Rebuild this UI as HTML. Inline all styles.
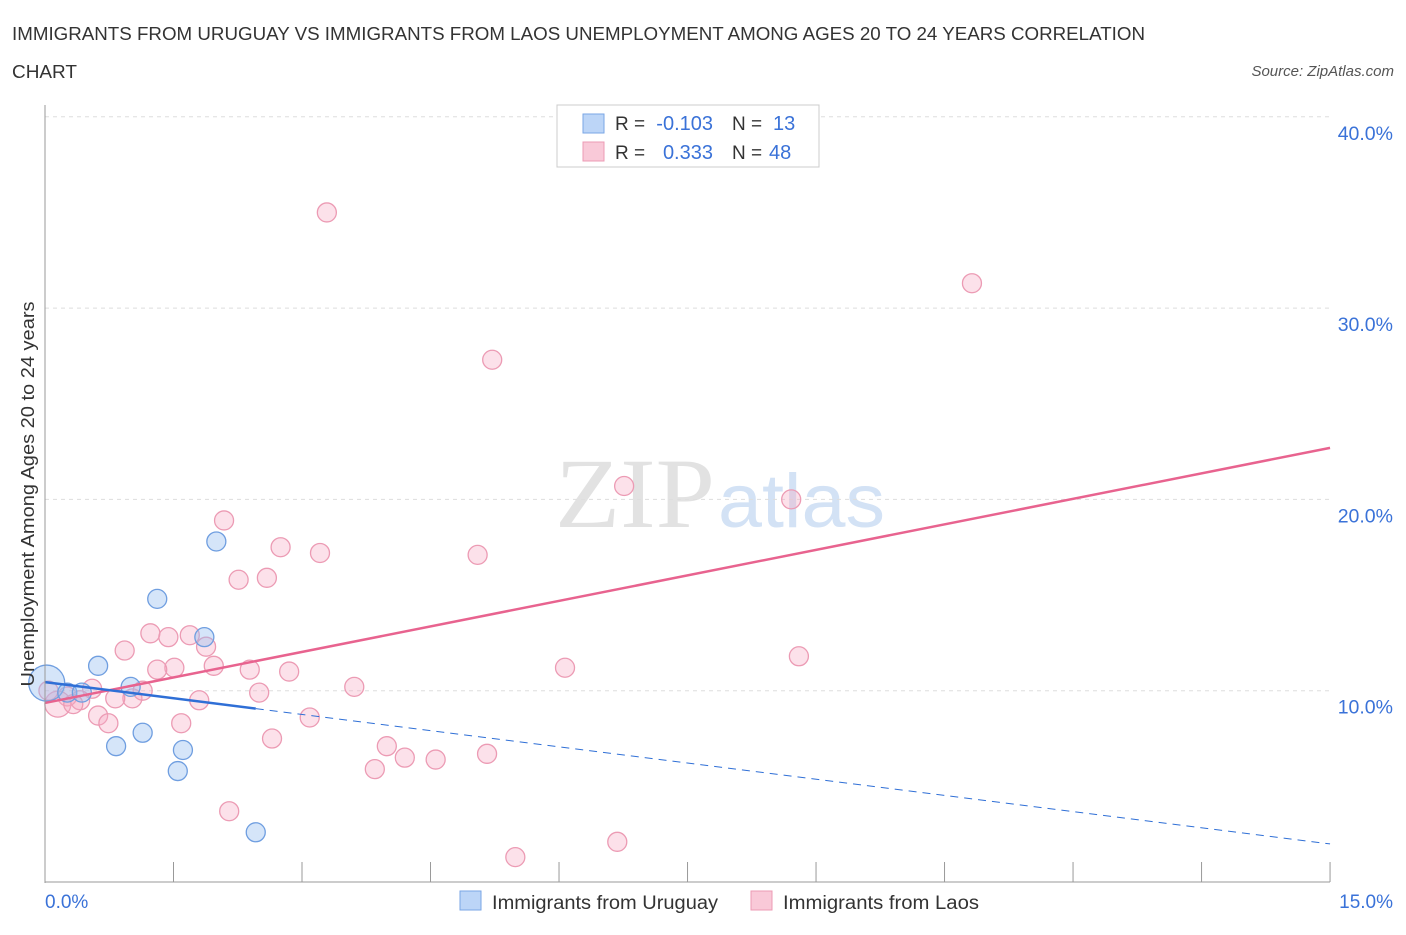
<!DOCTYPE html>
<html><head><meta charset="utf-8"><style>
body{margin:0;background:#fff;font-family:"Liberation Sans",sans-serif;}
</style></head><body>
<svg width="1406" height="930" xmlns="http://www.w3.org/2000/svg">
<text x="12" y="40" font-size="18" fill="#333" textLength="1133" lengthAdjust="spacingAndGlyphs">IMMIGRANTS FROM URUGUAY VS IMMIGRANTS FROM LAOS UNEMPLOYMENT AMONG AGES 20 TO 24 YEARS CORRELATION</text>
<text x="12" y="78" font-size="18" fill="#333" textLength="65" lengthAdjust="spacingAndGlyphs">CHART</text>
<text x="1394" y="76" font-size="15" font-style="italic" fill="#555" text-anchor="end">Source: ZipAtlas.com</text>
<text x="555" y="527" font-size="100" font-family="Liberation Serif,serif" fill="#e2e2e2" textLength="160" lengthAdjust="spacingAndGlyphs">ZIP</text>
<text x="718" y="527" font-size="76" fill="#d3e2f5" textLength="167" lengthAdjust="spacingAndGlyphs">atlas</text>
<g id="grid"></g>
<g id="marks"></g>
<line x1="45" y1="105" x2="45" y2="883" stroke="#999"/>
<line x1="45" y1="882" x2="1330" y2="882" stroke="#999"/>
<text x="34" y="494" font-size="18" fill="#333" text-anchor="middle" transform="rotate(-90 34 494)" textLength="385" lengthAdjust="spacingAndGlyphs">Unemployment Among Ages 20 to 24 years</text>
<text x="45" y="908" font-size="19" fill="#3a72d8">0.0%</text>
<text x="1393" y="908" font-size="19" fill="#3a72d8" text-anchor="end">15.0%</text>
<g>
<rect x="557" y="105" width="262" height="62" fill="#fff" stroke="#ccc"/>
<rect x="583" y="114" width="21" height="19" fill="#bcd5f7" stroke="#7aa6e6"/>
<rect x="583" y="142" width="21" height="19" fill="#f9c9d8" stroke="#ec9bb4"/>
<text x="615" y="130" font-size="19" fill="#333">R =</text>
<text x="713" y="130" font-size="20" fill="#3a72d8" text-anchor="end">-0.103</text>
<text x="732" y="130" font-size="19" fill="#333">N =</text>
<text x="773" y="130" font-size="20" fill="#3a72d8">13</text>
<text x="615" y="159" font-size="19" fill="#333">R =</text>
<text x="713" y="159" font-size="20" fill="#3a72d8" text-anchor="end">0.333</text>
<text x="732" y="159" font-size="19" fill="#333">N =</text>
<text x="769" y="159" font-size="20" fill="#3a72d8">48</text>
</g>
<g>
<rect x="460" y="891" width="21" height="19" fill="#bcd5f7" stroke="#7aa6e6"/>
<text x="492" y="909" font-size="19" fill="#333" textLength="226" lengthAdjust="spacingAndGlyphs">Immigrants from Uruguay</text>
<rect x="751" y="891" width="21" height="19" fill="#f9c9d8" stroke="#ec9bb4"/>
<text x="783" y="909" font-size="19" fill="#333" textLength="196" lengthAdjust="spacingAndGlyphs">Immigrants from Laos</text>
</g>
</svg>
<script>
const yTicks=[10,20,30,40];
const xTicks=[0,1.5,3,4.5,6,7.5,9,10.5,12,13.5,15];
const uruguayX=[0.02,0.26,0.43,0.62,0.83,1.0,1.14,1.31,1.55,1.61,1.86,2.0,2.46];
const uruguayY=[10.4,9.9,9.9,11.3,7.1,10.2,7.8,14.8,5.8,6.9,12.8,17.8,2.6];
const laosX=[3.29,10.82,5.22,6.76,8.71,2.09,5.05,3.21,2.75,2.26,2.59,1.23,1.44,1.69,1.88,0.93,1.51,1.31,1.97,2.39,2.85,6.07,8.80,3.61,2.50,1.80,1.02,0.82,1.14,0.55,0.41,0.26,0.15,0.33,0.62,0.74,1.59,3.09,2.65,3.99,4.20,4.56,5.16,3.85,2.15,5.49,6.68,0.04];
const laosY=[35.0,31.3,27.3,20.7,20.0,18.9,17.1,17.2,17.5,15.8,15.9,13.0,12.8,12.9,12.3,12.1,11.2,11.1,11.3,11.1,11.0,11.2,11.8,10.2,9.9,9.5,9.6,9.6,10.0,10.1,9.5,9.7,9.3,9.3,8.7,8.3,8.3,8.6,7.5,7.1,6.5,6.4,6.7,5.9,3.7,1.3,2.1,10.0];
const uruguayFit=[10.45,-0.564];
const laosFit=[9.36,0.889];
const sx=v=>45+v*85.67, sy=v=>882-v*19.13;
const NS='http://www.w3.org/2000/svg';
const grid=document.getElementById('grid'), marks=document.getElementById('marks');
function mk(t,a,p){const e=document.createElementNS(NS,t);for(const k in a)e.setAttribute(k,a[k]);p.appendChild(e);return e;}
yTicks.forEach(v=>{
 const l=mk('line',{x1:45,x2:1330,y1:sy(v),y2:sy(v),stroke:'#ddd','stroke-dasharray':'4,4'},grid);
 
 
 const t=mk('text',{x:1393,y:sy(v)+23,'font-size':19.5,fill:'#3a72d8','text-anchor':'end'},grid);
 t.textContent=v.toFixed(1)+'%';
 
 
});
xTicks.forEach(v=>{
 const l=mk('line',{x1:sx(v),x2:sx(v),y1:862,y2:882,stroke:'#999'},grid);
 
 
});
laosX.forEach((x,i)=>{
 const big=(i===32);
 const c=mk('circle',{cx:sx(x),cy:sy(laosY[i]),r:big?13:9.5,fill:'rgba(246,170,195,0.35)',stroke:'#ec9bb4','stroke-width':1.3},marks);
 
 
});
uruguayX.forEach((x,i)=>{
 const c=mk('circle',{cx:sx(x),cy:sy(uruguayY[i]),r:i===0?18:9.5,fill:'rgba(150,190,240,0.4)',stroke:'#6f9ee0','stroke-width':1.3},marks);
 
 
});
const pl=mk('line',{x1:sx(0),y1:sy(laosFit[0]),x2:sx(15),y2:sy(laosFit[0]+laosFit[1]*15),stroke:'#e8638f','stroke-width':2.5},marks);


const xe=Math.max(...uruguayX);
const bl=mk('line',{x1:sx(0),y1:sy(uruguayFit[0]),x2:sx(xe),y2:sy(uruguayFit[0]+uruguayFit[1]*xe),stroke:'#2f6fd6','stroke-width':2.5},marks);


const bd=mk('line',{x1:sx(xe),y1:sy(uruguayFit[0]+uruguayFit[1]*xe),x2:sx(15),y2:sy(uruguayFit[0]+uruguayFit[1]*15),stroke:'#2f6fd6','stroke-width':1,'stroke-dasharray':'8,6'},marks);


</script>
</body></html>
